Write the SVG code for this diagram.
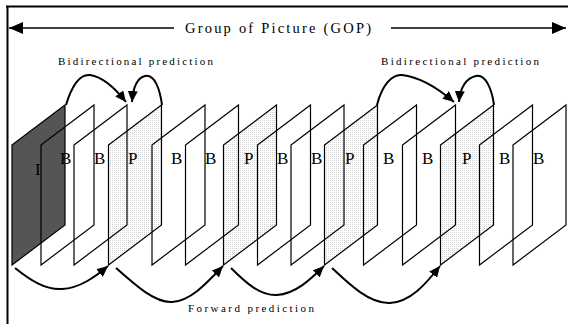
<svg xmlns="http://www.w3.org/2000/svg" width="568" height="324" viewBox="0 0 568 324">
<style>
text{font-family:"Liberation Serif","Times New Roman",serif;fill:#000}
.lbl{font-size:17px}
.cap{font-size:11px}
.frame{stroke:#000;stroke-width:1.2;fill:none;stroke-linejoin:miter}
.pf{fill:url(#dots);stroke:none}
.conn{fill:none;stroke:#000;stroke-width:2}
.bord{stroke:#000;stroke-width:2;fill:none}
</style>
<defs>
<pattern id="dots" width="2" height="2" patternUnits="userSpaceOnUse">
<rect width="2" height="2" fill="#fff"/>
<rect width="1" height="1" fill="#d2d2d2"/>
</pattern>
<marker id="ah" markerWidth="12" markerHeight="10" refX="11" refY="5" orient="auto" markerUnits="userSpaceOnUse">
<path d="M0,0 L11,5 L0,10 Z" fill="#000"/>
</marker>
<marker id="big" markerWidth="15" markerHeight="12" refX="14" refY="6" orient="auto-start-reverse" markerUnits="userSpaceOnUse">
<path d="M0,0 L14,6 L0,12 Z" fill="#000"/>
</marker>
</defs>
<g id="border">
<line class="bord" x1="6" y1="6.5" x2="568" y2="6.5"/>
<line class="bord" x1="7.5" y1="6" x2="7.5" y2="324"/>
</g>
<g id="gop">
<line x1="9" y1="28" x2="174" y2="28" stroke="#000" stroke-width="1.3" marker-start="url(#big)"/>
<line x1="391" y1="28" x2="566" y2="28" stroke="#000" stroke-width="1.3" marker-end="url(#big)"/>
<text x="185" y="33" font-size="14.5" textLength="186" lengthAdjust="spacing">Group of Picture (GOP)</text>
</g>
<g id="fills">
<path d="M12,145 L65,105 L65,225 L12,265 Z" fill="#555"/>
<path class="pf" d="M108.5,145 L161.5,105 L161.5,225 L108.5,265 Z"/>
<path class="pf" d="M223.5,145 L276.5,105 L276.5,225 L223.5,265 Z"/>
<path class="pf" d="M324.5,145 L377.5,105 L377.5,225 L324.5,265 Z"/>
<path class="pf" d="M440.5,145 L493.5,105 L493.5,225 L440.5,265 Z"/>
</g>
<g id="f1"><path class="frame" d="M12,145 L65,105 L65,225 L12,265 Z"/><text class="lbl" x="35" y="175" font-size="18">I</text></g>
<g id="f2"><path class="frame" d="M41,145 L94,105 L94,225 L41,265 Z"/><text class="lbl" x="60" y="164">B</text></g>
<g id="f3"><path class="frame" d="M74,145 L127,105 L127,225 L74,265 Z"/><text class="lbl" x="94" y="164">B</text></g>
<g id="f4"><path class="frame" d="M108.5,145 L161.5,105 L161.5,225 L108.5,265 Z"/><text class="lbl" x="128" y="164">P</text></g>
<g id="f5"><path class="frame" d="M152,145 L205,105 L205,225 L152,265 Z"/><text class="lbl" x="171" y="164">B</text></g>
<g id="f6"><path class="frame" d="M185.5,145 L238.5,105 L238.5,225 L185.5,265 Z"/><text class="lbl" x="205" y="164">B</text></g>
<g id="f7"><path class="frame" d="M223.5,145 L276.5,105 L276.5,225 L223.5,265 Z"/><text class="lbl" x="244" y="164">P</text></g>
<g id="f8"><path class="frame" d="M257.5,145 L310.5,105 L310.5,225 L257.5,265 Z"/><text class="lbl" x="277" y="164">B</text></g>
<g id="f9"><path class="frame" d="M291,145 L344,105 L344,225 L291,265 Z"/><text class="lbl" x="311" y="164">B</text></g>
<g id="f10"><path class="frame" d="M324.5,145 L377.5,105 L377.5,225 L324.5,265 Z"/><text class="lbl" x="345" y="164">P</text></g>
<g id="f11"><path class="frame" d="M363.5,145 L416.5,105 L416.5,225 L363.5,265 Z"/><text class="lbl" x="383" y="164">B</text></g>
<g id="f12"><path class="frame" d="M402.5,145 L455.5,105 L455.5,225 L402.5,265 Z"/><text class="lbl" x="422" y="164">B</text></g>
<g id="f13"><path class="frame" d="M440.5,145 L493.5,105 L493.5,225 L440.5,265 Z"/><text class="lbl" x="462" y="164">P</text></g>
<g id="f14"><path class="frame" d="M479.5,145 L532.5,105 L532.5,225 L479.5,265 Z"/><text class="lbl" x="499" y="164">B</text></g>
<g id="f15"><path class="frame" d="M513,145 L566,105 L566,225 L513,265 Z"/><text class="lbl" x="533" y="164">B</text></g>
<g id="connectors">
<path class="conn" d="M66,105 C72,85 80,74 90,75 C103,77 115,88 126,102" marker-end="url(#ah)"/>
<path class="conn" d="M162,105 C160,90 155,74 145,76 C137,78 133,88 132,102" marker-end="url(#ah)"/>
<path class="conn" d="M377,105 C382,85 392,74 402,75 C420,77 440,90 454,102" marker-end="url(#ah)"/>
<path class="conn" d="M494,105 C492,90 486,74 476,76 C466,78 460,88 459,102" marker-end="url(#ah)"/>
<path class="conn" d="M15,268 C30,280 45,290 62,289 C80,288 95,277 108,266" marker-end="url(#ah)"/>
<path class="conn" d="M116,268 C135,285 155,303 172,302 C190,301 205,285 223,266" marker-end="url(#ah)"/>
<path class="conn" d="M231,268 C245,282 260,296 277,295 C295,294 310,280 324,266" marker-end="url(#ah)"/>
<path class="conn" d="M332,268 C350,285 370,304 390,303 C410,302 425,285 440,266" marker-end="url(#ah)"/>
</g>
<g id="captions">
<text class="cap" x="58" y="65" textLength="155" lengthAdjust="spacing">Bidirectional prediction</text>
<text class="cap" x="381" y="65" textLength="158" lengthAdjust="spacing">Bidirectional prediction</text>
<text class="cap" x="188" y="312" textLength="126" lengthAdjust="spacing">Forward prediction</text>
</g>
</svg>
